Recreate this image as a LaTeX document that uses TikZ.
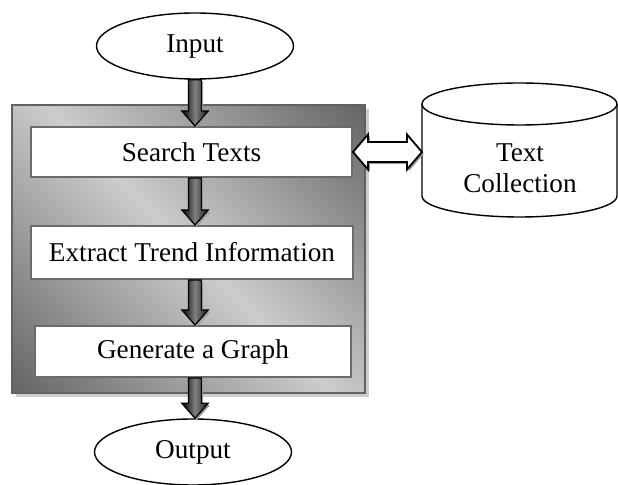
\documentclass[tikz,border=0pt]{standalone}
\usepackage{fontspec}
\setmainfont{Liberation Serif}
\usetikzlibrary{shapes.geometric}
\usetikzlibrary{shadows}
\usetikzlibrary{calc}
\pgfdeclareverticalshading{panelshade}{100bp}{%
	color(0bp)=(black!60); color(15bp)=(black!60); color(50bp)=(black!20);
	color(85bp)=(black!60); color(100bp)=(black!60)}
\tikzset{
	flownode/.style = {
		align=center,
		inner sep=0pt,
		text centered,
		font=\fontsize{13.6}{15.5}\selectfont
	},
	node_term/.style = {
		flownode,
		ellipse,
		draw=black,
		line width=0.7pt,
		minimum width=98.5pt,
		minimum height=33pt
	},
	node_step/.style = {
		flownode,
		rectangle,
		draw=black!58,
		line width=1pt,
		fill=white
	},
	node_panel/.style = {
		rectangle,
		inner sep=0pt,
		draw=black!62,
		line width=0.8pt,
		shading=panelshade,
		shading angle=-45,
		drop shadow={shadow xshift=1.8pt, shadow yshift=-1.8pt, fill=black!20, opacity=1}
	},
	arrow_down/.style = {
		draw=black,
		line width=0.6pt,
		left color=black,
		right color=black!90,
		middle color=black!50,
		drop shadow={shadow xshift=0.9pt, shadow yshift=-0.9pt, fill=black!40, opacity=1}
	},
	arrow_both/.style = {
		draw=black,
		line width=0.9pt,
		fill=white,
		drop shadow={shadow xshift=0.9pt, shadow yshift=-0.9pt, fill=black!40, opacity=1}
	},
	node_db/.style = {
		draw=black,
		line width=0.7pt
	}
}
% block arrow pointing down, from #1 to #2
\newcommand{\flowdown}[2]{%
	\path[arrow_down] let \p1=(#1.south -| input.south), \p2=(#2.north -| input.south) in
		(\x1-3.2pt,\y1) -- (\x1+3.2pt,\y1) -- (\x1+3.2pt,\y2+7.5pt) -- (\x1+6.6pt,\y2+7.5pt)
		-- (\x1,\y2) -- (\x1-6.6pt,\y2+7.5pt) -- (\x1-3.2pt,\y2+7.5pt) -- cycle;
}
% hollow two-headed arrow between #1 and #2
\newcommand{\flowboth}[2]{%
	\path[arrow_both] let \p1=(#1), \p2=(#2) in
		(\x1,\y1) -- (\x1+7.5pt,\y1+8.75pt) -- (\x1+7.5pt,\y1+5pt) -- (\x2-7.5pt,\y1+5pt)
		-- (\x2-7.5pt,\y1+8.75pt) -- (\x2,\y1) -- (\x2-7.5pt,\y1-8.75pt) -- (\x2-7.5pt,\y1-5pt)
		-- (\x1+7.5pt,\y1-5pt) -- (\x1+7.5pt,\y1-8.75pt) -- cycle;
}
\begin{document}
\begin{tikzpicture}[x=0.5pt, y=-0.5pt]
\useasboundingbox (0,0) rectangle (618,485);
\node [node_panel, minimum width=176.5pt, minimum height=144pt] (panel) at (188.5,249) {};
\node [node_term] (input) at (195,46) {Input};
\node [node_step, minimum width=160.5pt, minimum height=25pt] (search) at (191.5,152) {Search Texts};
\node [node_step, minimum width=161pt, minimum height=26.5pt] (extract) at (192,252.5) {Extract Trend Information};
\node [node_step, minimum width=158pt, minimum height=25.5pt] (generate) at (193,351.5) {Generate a Graph};
\node [node_term] (output) at (193,452) {Output};
% text collection
\draw [node_db] (422,104) -- (422,196) arc[start angle=180, end angle=0, x radius=97.5, y radius=21] -- (617,104);
\draw [node_db] (519.5,104) ellipse [x radius=97.5, y radius=21];
\node [flownode] (coll) at (520,168) {Text\\Collection};
\coordinate (cyl_w) at (422,153);
\flowdown{input}{search}
\flowdown{search}{extract}
\flowdown{extract}{generate}
\flowdown{generate}{output}
\flowboth{search.east}{cyl_w}
\end{tikzpicture}
\end{document}
